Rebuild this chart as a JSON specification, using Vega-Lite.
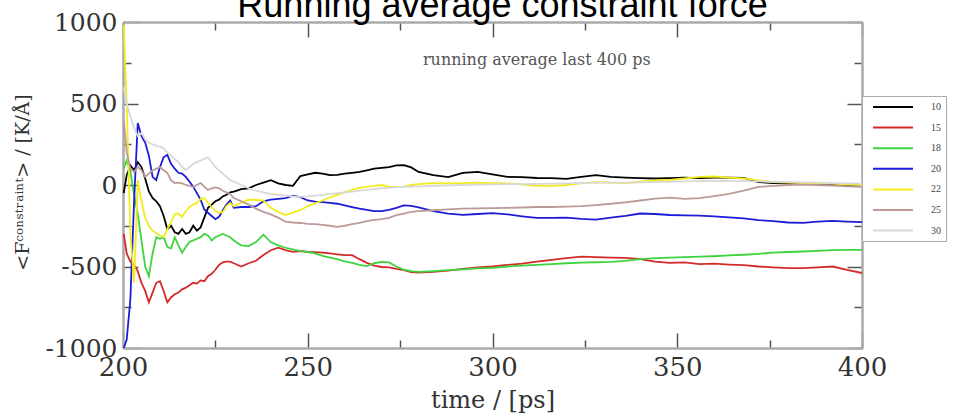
{
  "$schema": "https://vega.github.io/schema/vega-lite/v6.json",
  "width": 739,
  "height": 326,
  "autosize": {"type": "none"},
  "padding": {"left": 123, "top": 22, "right": 97, "bottom": 70},
  "background": "white",
  "title": {"text": "Running average constraint force", "font": "Liberation Sans", "fontSize": 36, "fontWeight": "normal", "color": "#000", "anchor": "middle", "frame": "group", "offset": 6, "dx": 10, "dy": 21},
  "config": {"view": {"stroke": null}},
  "resolve": {"axis": {"x": "independent", "y": "independent"}},
  "layer": [
    {
      "data": {"values": [
        {"t":200.2,"10":-50,"15":-300,"18":100,"20":-1000,"22":980,"25":400,"30":600},
        {"t":201,"10":60,"15":-420,"18":150,"20":-950,"22":500,"25":200,"30":500},
        {"t":202,"10":120,"15":-470,"18":80,"20":-700,"22":-300,"25":100,"30":420},
        {"t":203,"10":90,"15":-490,"18":-60,"20":-100,"22":-600,"25":80,"30":350},
        {"t":204,"10":140,"15":-530,"18":-180,"20":380,"22":30,"25":110,"30":300},
        {"t":205,"10":110,"15":-600,"18":-340,"20":300,"22":-100,"25":90,"30":320},
        {"t":206,"10":40,"15":-650,"18":-500,"20":260,"22":-200,"25":50,"30":280},
        {"t":207,"10":-40,"15":-720,"18":-560,"20":180,"22":-250,"25":70,"30":260},
        {"t":208,"10":-80,"15":-660,"18":-420,"20":50,"22":-280,"25":90,"30":250},
        {"t":209,"10":-100,"15":-600,"18":-320,"20":30,"22":-295,"25":100,"30":240},
        {"t":210,"10":-130,"15":-590,"18":-330,"20":110,"22":-310,"25":110,"30":235},
        {"t":211,"10":-190,"15":-650,"18":-320,"20":170,"22":-320,"25":90,"30":225},
        {"t":212,"10":-270,"15":-720,"18":-380,"20":185,"22":-270,"25":74,"30":200},
        {"t":213,"10":-250,"15":-690,"18":-390,"20":130,"22":-230,"25":30,"30":180},
        {"t":214,"10":-290,"15":-670,"18":-320,"20":100,"22":-180,"25":12,"30":160},
        {"t":215,"10":-300,"15":-660,"18":-370,"20":75,"22":-175,"25":15,"30":140},
        {"t":216,"10":-270,"15":-640,"18":-415,"20":70,"22":-195,"25":10,"30":110},
        {"t":217,"10":-300,"15":-630,"18":-380,"20":50,"22":-160,"25":0,"30":92},
        {"t":218,"10":-290,"15":-615,"18":-350,"20":20,"22":-135,"25":-5,"30":110},
        {"t":219,"10":-250,"15":-600,"18":-340,"20":-10,"22":-120,"25":-12,"30":130},
        {"t":220,"10":-280,"15":-605,"18":-330,"20":-50,"22":-110,"25":0,"30":140},
        {"t":221,"10":-260,"15":-585,"18":-320,"20":-90,"22":-85,"25":12,"30":150},
        {"t":222,"10":-200,"15":-590,"18":-300,"20":-150,"22":-80,"25":-10,"30":160},
        {"t":223,"10":-140,"15":-560,"18":-310,"20":-170,"22":-110,"25":-30,"30":170},
        {"t":224,"10":-120,"15":-545,"18":-340,"20":-190,"22":-135,"25":-20,"30":140},
        {"t":225,"10":-100,"15":-520,"18":-320,"20":-210,"22":-160,"25":-15,"30":110},
        {"t":226,"10":-90,"15":-490,"18":-310,"20":-195,"22":-170,"25":-20,"30":90},
        {"t":227,"10":-70,"15":-475,"18":-300,"20":-155,"22":-165,"25":-35,"30":70},
        {"t":228,"10":-60,"15":-470,"18":-310,"20":-120,"22":-130,"25":-45,"30":50},
        {"t":229,"10":-45,"15":-470,"18":-320,"20":-95,"22":-110,"25":-55,"30":30},
        {"t":230,"10":-40,"15":-480,"18":-340,"20":-140,"22":-130,"25":-80,"30":20},
        {"t":232,"10":-25,"15":-500,"18":-370,"20":-135,"22":-110,"25":-100,"30":0},
        {"t":234,"10":-20,"15":-480,"18":-375,"20":-135,"22":-90,"25":-120,"30":-20},
        {"t":236,"10":0,"15":-465,"18":-350,"20":-130,"22":-92,"25":-145,"30":-35},
        {"t":238,"10":15,"15":-430,"18":-305,"20":-100,"22":-95,"25":-165,"30":-45},
        {"t":240,"10":30,"15":-400,"18":-350,"20":-90,"22":-140,"25":-180,"30":-55},
        {"t":242,"10":10,"15":-385,"18":-370,"20":-85,"22":-165,"25":-200,"30":-60},
        {"t":244,"10":0,"15":-400,"18":-385,"20":-80,"22":-185,"25":-225,"30":-65},
        {"t":246,"10":-5,"15":-410,"18":-395,"20":-65,"22":-170,"25":-230,"30":-70},
        {"t":248,"10":55,"15":-405,"18":-405,"20":-75,"22":-153,"25":-233,"30":-72},
        {"t":250,"10":65,"15":-410,"18":-412,"20":-95,"22":-130,"25":-238,"30":-70},
        {"t":252,"10":75,"15":-412,"18":-420,"20":-102,"22":-112,"25":-240,"30":-65},
        {"t":254,"10":70,"15":-415,"18":-435,"20":-105,"22":-95,"25":-245,"30":-60},
        {"t":256,"10":60,"15":-420,"18":-445,"20":-110,"22":-75,"25":-250,"30":-55},
        {"t":258,"10":62,"15":-425,"18":-455,"20":-115,"22":-60,"25":-257,"30":-50},
        {"t":260,"10":70,"15":-430,"18":-468,"20":-125,"22":-45,"25":-250,"30":-45},
        {"t":262,"10":75,"15":-430,"18":-478,"20":-135,"22":-30,"25":-240,"30":-40},
        {"t":264,"10":80,"15":-455,"18":-490,"20":-145,"22":-18,"25":-233,"30":-35},
        {"t":266,"10":90,"15":-478,"18":-498,"20":-152,"22":-12,"25":-222,"30":-30},
        {"t":268,"10":100,"15":-495,"18":-480,"20":-160,"22":-5,"25":-214,"30":-25},
        {"t":270,"10":105,"15":-503,"18":-472,"20":-160,"22":0,"25":-210,"30":-20},
        {"t":272,"10":110,"15":-505,"18":-475,"20":-152,"22":-10,"25":-202,"30":-18},
        {"t":274,"10":120,"15":-515,"18":-500,"20":-140,"22":-12,"25":-185,"30":-15},
        {"t":276,"10":122,"15":-522,"18":-520,"20":-125,"22":-10,"25":-175,"30":-12},
        {"t":278,"10":108,"15":-535,"18":-528,"20":-128,"22":0,"25":-165,"30":-10},
        {"t":280,"10":80,"15":-538,"18":-533,"20":-138,"22":5,"25":-160,"30":-8},
        {"t":284,"10":60,"15":-533,"18":-528,"20":-160,"22":12,"25":-155,"30":-5},
        {"t":288,"10":48,"15":-525,"18":-522,"20":-176,"22":10,"25":-150,"30":-2},
        {"t":292,"10":75,"15":-515,"18":-518,"20":-183,"22":12,"25":-145,"30":0},
        {"t":296,"10":80,"15":-505,"18":-512,"20":-178,"22":14,"25":-143,"30":2},
        {"t":300,"10":65,"15":-500,"18":-508,"20":-172,"22":12,"25":-142,"30":4},
        {"t":304,"10":50,"15":-490,"18":-500,"20":-180,"22":10,"25":-140,"30":5},
        {"t":308,"10":48,"15":-482,"18":-495,"20":-192,"22":2,"25":-138,"30":5},
        {"t":312,"10":43,"15":-470,"18":-490,"20":-202,"22":-5,"25":-135,"30":6},
        {"t":316,"10":42,"15":-460,"18":-485,"20":-202,"22":-5,"25":-135,"30":8},
        {"t":320,"10":38,"15":-448,"18":-480,"20":-200,"22":0,"25":-133,"30":10},
        {"t":324,"10":50,"15":-440,"18":-476,"20":-208,"22":10,"25":-130,"30":12},
        {"t":328,"10":60,"15":-442,"18":-474,"20":-212,"22":18,"25":-123,"30":14},
        {"t":332,"10":50,"15":-445,"18":-472,"20":-200,"22":15,"25":-115,"30":15},
        {"t":336,"10":45,"15":-447,"18":-465,"20":-190,"22":12,"25":-106,"30":15},
        {"t":340,"10":42,"15":-455,"18":-455,"20":-175,"22":20,"25":-95,"30":16},
        {"t":344,"10":40,"15":-470,"18":-448,"20":-178,"22":28,"25":-83,"30":18},
        {"t":348,"10":42,"15":-478,"18":-445,"20":-184,"22":32,"25":-78,"30":20},
        {"t":352,"10":45,"15":-475,"18":-442,"20":-186,"22":40,"25":-85,"30":22},
        {"t":356,"10":42,"15":-485,"18":-440,"20":-188,"22":50,"25":-80,"30":24},
        {"t":360,"10":45,"15":-482,"18":-437,"20":-192,"22":52,"25":-68,"30":25},
        {"t":364,"10":45,"15":-488,"18":-432,"20":-198,"22":45,"25":-55,"30":25},
        {"t":368,"10":43,"15":-492,"18":-428,"20":-205,"22":40,"25":-35,"30":24},
        {"t":372,"10":18,"15":-500,"18":-422,"20":-215,"22":28,"25":-12,"30":22},
        {"t":376,"10":12,"15":-505,"18":-415,"20":-222,"22":18,"25":-5,"30":20},
        {"t":380,"10":10,"15":-510,"18":-411,"20":-230,"22":15,"25":0,"30":18},
        {"t":384,"10":8,"15":-510,"18":-408,"20":-232,"22":12,"25":2,"30":16},
        {"t":388,"10":5,"15":-505,"18":-404,"20":-225,"22":12,"25":0,"30":14},
        {"t":392,"10":3,"15":-500,"18":-400,"20":-220,"22":8,"25":-3,"30":12},
        {"t":396,"10":0,"15":-520,"18":-398,"20":-225,"22":3,"25":-8,"30":10},
        {"t":400,"10":-2,"15":-540,"18":-398,"20":-228,"22":0,"25":-12,"30":8}
      ]},
      "transform": [{"fold": ["10", "15", "18", "20", "22", "25", "30"], "as": ["series", "v"]}],
      "mark": {"type": "line", "strokeWidth": 1.8, "clip": true},
      "encoding": {
        "x": {"field": "t", "type": "quantitative",
          "scale": {"domain": [200, 400], "nice": false, "zero": false},
          "axis": {"orient": "bottom", "values": [200, 225, 250, 275, 300, 325, 350, 375, 400],
            "labelExpr": "datum.value % 50 === 0 ? '' + datum.value : ''",
            "ticks": false, "grid": true, "gridColor": "#555", "gridWidth": 1.5, "gridOpacity": 1,
            "gridDash": {"condition": {"test": "datum.value % 50 === 0", "value": [15, 2000]}, "value": [8, 2000]},
            "domainColor": "#aaa", "domainWidth": 2.5, "labelFlush": false,
            "labelFont": "DejaVu Serif", "labelFontSize": 26, "labelColor": "#333", "labelPadding": 6, "labelOverlap": false,
            "title": "time / [ps]", "titleFont": "DejaVu Serif", "titleFontSize": 24, "titleFontWeight": "normal", "titleColor": "#333",
            "titleY": 52, "titleBaseline": "middle"}},
        "y": {"field": "v", "type": "quantitative",
          "scale": {"domain": [-1000, 1000], "nice": false, "zero": false},
          "axis": {"orient": "left", "values": [-1000, -750, -500, -250, 0, 250, 500, 750, 1000],
            "labelExpr": "datum.value % 500 === 0 ? '' + datum.value : ''",
            "ticks": false, "grid": true, "gridColor": "#555", "gridWidth": 1.5, "gridOpacity": 1,
            "gridDash": {"condition": {"test": "datum.value % 500 === 0", "value": [15, 2000]}, "value": [8, 2000]},
            "domainColor": "#aaa", "domainWidth": 2.5, "labelFlush": false,
            "labelFont": "DejaVu Serif", "labelFontSize": 25, "labelColor": "#333", "labelPadding": 6, "labelOverlap": false,
            "title": "<Fᶜᵒⁿˢᵗʳᵃⁱⁿᵗ> / [K/Å]", "titleFont": "DejaVu Serif", "titleFontSize": 19, "titleFontWeight": "normal", "titleColor": "#333",
            "titleX": -101, "titleY": 160, "titleAngle": -90, "titleBaseline": "middle", "titleAlign": "center"}},
        "color": {"field": "series", "type": "nominal",
          "scale": {"domain": ["10", "15", "18", "20", "22", "25", "30"],
            "range": ["#000000", "#d42a2a", "#3ed43e", "#1c1cd8", "#f2ec1e", "#bc9a9a", "#d8d8d8"]},
          "legend": {"orient": "none", "legendX": 739, "legendY": 74, "title": null,
            "symbolType": "M0,0H8", "symbolSize": 100, "symbolStrokeWidth": 2,
            "labelFont": "Liberation Serif", "labelFontSize": 10, "labelColor": "#444", "labelOffset": 52,
            "rowPadding": 9.6, "padding": 5, "strokeColor": "#aaa", "fillColor": "white"}}
      }
    },
    {
      "data": {"values": [{"t": 312, "v": 767, "label": "running average last 400 ps"}]},
      "mark": {"type": "text", "font": "DejaVu Serif", "fontSize": 16, "color": "#555"},
      "encoding": {
        "x": {"field": "t", "type": "quantitative",
          "axis": {"orient": "top", "values": [200, 225, 250, 275, 300, 325, 350, 375, 400], "labels": false, "ticks": false,
            "grid": true, "gridColor": "#555", "gridWidth": 1.5, "gridOpacity": 1,
            "gridDash": {"condition": {"test": "datum.value % 50 === 0", "value": [15, 2000]}, "value": [8, 2000]},
            "domainColor": "#aaa", "domainWidth": 2.5, "title": null}},
        "y": {"field": "v", "type": "quantitative",
          "axis": {"orient": "right", "values": [-1000, -750, -500, -250, 0, 250, 500, 750, 1000], "labels": false, "ticks": false,
            "grid": true, "gridColor": "#555", "gridWidth": 1.5, "gridOpacity": 1,
            "gridDash": {"condition": {"test": "datum.value % 500 === 0", "value": [15, 2000]}, "value": [8, 2000]},
            "domainColor": "#aaa", "domainWidth": 2.5, "title": null}},
        "text": {"field": "label"}
      }
    }
  ]
}
